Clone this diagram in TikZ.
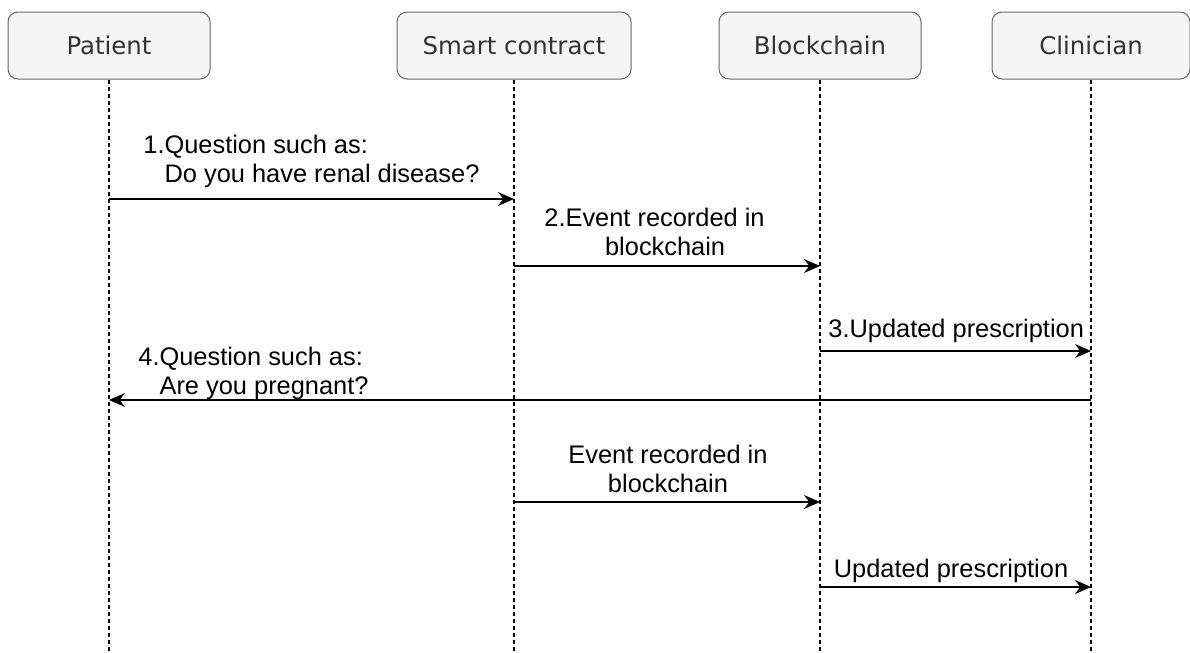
\documentclass[tikz,border=0pt]{standalone}
\usepackage{fontspec}
\setmainfont{Liberation Sans}
\newfontfamily\boxfont{DejaVu Sans}
\usetikzlibrary{arrows.meta, positioning}

\definecolor{boxfill}{HTML}{F5F5F5}
\definecolor{boxline}{HTML}{666666}
\definecolor{boxtext}{HTML}{333333}

\begin{document}
\begin{tikzpicture}[x=0.5pt, y=0.5pt,
    actor/.style={draw=boxline, fill=boxfill, rounded corners=5pt, line width=0.5pt,
        minimum height=33.5pt, inner sep=0pt, text=boxtext,
        font=\boxfont\fontsize{12.2}{14}\selectfont},
    lifeline/.style={dash pattern=on 2pt off 1.5pt, line width=0.6pt},
    msg/.style={-{Stealth[length=8pt, width=7pt, inset=2.6pt]}, line width=0.75pt},
    lbl/.style={inner sep=0pt, font=\fontsize{12.7}{14.8}\selectfont}]
                        \useasboundingbox (0, 0) rectangle (1190, -653);

                        \node[actor, minimum width=101pt] (patient) at (109, -45.5) {Patient};
                        \node[actor, minimum width=117pt] (contract) at (514, -45.5) {Smart contract};
                        \node[actor, minimum width=101pt] (chain) at (820, -45.5) {Blockchain};
                        \node[actor, minimum width=99pt] (clinician) at (1091, -45.5) {Clinician};

                        \coordinate (patientEnd) at (109, -653);
                        \coordinate (contractEnd) at (514, -653);
                        \coordinate (chainEnd) at (820, -653);
                        \coordinate (clinicianEnd) at (1091, -653);

                        \draw[lifeline]
                        (patient) -- (patientEnd)
                        (contract) -- (contractEnd)
                        (chain) -- (chainEnd)
                        (clinician) -- (clinicianEnd);

                        \coordinate (m1a) at (109, -199);
                        \coordinate (m1b) at (514, -199);
                        \coordinate (m2a) at (514, -266);
                        \coordinate (m2b) at (820, -266);
                        \coordinate (m3a) at (820, -351);
                        \coordinate (m3b) at (1091, -351);
                        \coordinate (m4a) at (1091, -400);
                        \coordinate (m4b) at (109, -400);
                        \coordinate (m5a) at (514, -502);
                        \coordinate (m5b) at (820, -502);
                        \coordinate (m6a) at (820, -587);
                        \coordinate (m6b) at (1091, -587);

                        \draw[msg] (m1a) -- (m1b);
                        \draw[msg] (m2a) -- (m2b);
                        \draw[msg] (m3a) -- (m3b);
                        \draw[msg] (m4a) -- (m4b);
                        \draw[msg] (m5a) -- (m5b);
                        \draw[msg] (m6a) -- (m6b);

                        \node[lbl, anchor=base west] (l1) at (143, -153) {\begin{tabular}[t]{@{}l@{}l@{}}1.&Question such as:\\&Do you have renal disease?\end{tabular}};
                        \node[lbl, anchor=base west] (l2) at (544, -226) {\begin{tabular}[t]{@{}r@{}c@{}}2.&Event recorded in\\&blockchain\end{tabular}};
                        \node[lbl, anchor=base west] (l3) at (828, -337) {3.Updated prescription};
                        \node[lbl, anchor=base west] (l4) at (138, -365) {\begin{tabular}[t]{@{}l@{}l@{}}4.&Question such as:\\&Are you pregnant?\end{tabular}};
                        \node[lbl, anchor=base] (l5) at (668, -463) {\begin{tabular}[t]{@{}c@{}}Event recorded in\\blockchain\end{tabular}};
                        \node[lbl, anchor=base] (l6) at (951, -577) {Updated prescription};
                    \end{tikzpicture}
\end{document}
